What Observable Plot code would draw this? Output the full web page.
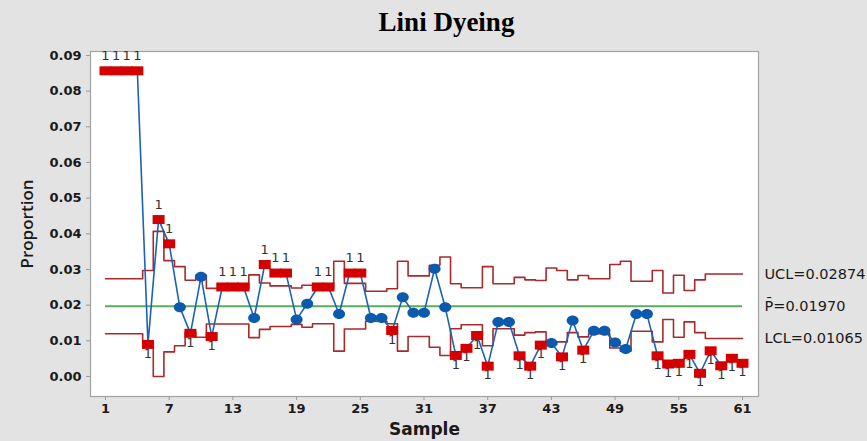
<!DOCTYPE html>
<html><head><meta charset="utf-8">
<script src="https://cdn.jsdelivr.net/npm/d3@7"></script>
<script src="https://cdn.jsdelivr.net/npm/@observablehq/plot@0.6"></script>
<style>
html,body{margin:0;padding:0;background:#e3e3e3;}
#chart{width:867px;height:441px;}
</style></head><body><div id="chart"></div>
<script>
const title = "Lini Dyeing";
const xLabel = "Sample";
const yLabel = "Proportion";
const samples = [1,2,3,4,5,6,7,8,9,10,11,12,13,14,15,16,17,18,19,20,21,22,23,24,25,26,27,28,29,30,31,32,33,34,35,36,37,38,39,40,41,42,43,44,45,46,47,48,49,50,51,52,53,54,55,56,57,58,59,60,61];
const proportion = [0.0857,0.0857,0.0857,0.0857,0.0090,0.0440,0.0372,0.0194,0.0121,0.0280,
  0.0112,0.0251,0.0251,0.0251,0.0164,0.0314,0.0290,0.0290,0.0160,0.0204,
  0.0251,0.0251,0.0175,0.0290,0.0290,0.0164,0.0164,0.0129,0.0222,0.0179,
  0.0179,0.0302,0.0194,0.0059,0.0079,0.0115,0.0029,0.0153,0.0153,0.0058,
  0.0029,0.0088,0.0094,0.0055,0.0157,0.0074,0.0128,0.0128,0.0095,0.0077,
  0.0175,0.0175,0.0058,0.0035,0.0037,0.0062,0.0009,0.0072,0.0030,0.0051,0.0037];
const ucl = [0.0274,0.0274,0.0274,0.0274,0.0297,0.0407,0.0325,0.0308,0.0270,0.0284,
  0.0247,0.0247,0.0247,0.0247,0.0285,0.0262,0.0254,0.0254,0.0248,0.0256,
  0.0246,0.0246,0.0323,0.0261,0.0261,0.0239,0.0239,0.0246,0.0323,0.0282,
  0.0282,0.0312,0.0335,0.0260,0.0249,0.0249,0.0308,0.0260,0.0260,0.0278,
  0.0271,0.0269,0.0304,0.0297,0.0271,0.0283,0.0274,0.0274,0.0314,0.0323,
  0.0267,0.0267,0.0297,0.0234,0.0284,0.0241,0.0271,0.02874,0.02874,0.02874,0.02874];
const lcl = [0.0120,0.0120,0.0120,0.0120,0.0097,0.0000,0.0069,0.0086,0.0124,0.0110,
  0.0147,0.0147,0.0147,0.0147,0.0109,0.0132,0.0140,0.0140,0.0146,0.0138,
  0.0148,0.0148,0.0071,0.0133,0.0133,0.0155,0.0155,0.0148,0.0071,0.0112,
  0.0112,0.0082,0.0059,0.0134,0.0145,0.0145,0.0086,0.0134,0.0134,0.0116,
  0.0123,0.0125,0.0090,0.0097,0.0123,0.0111,0.0120,0.0120,0.0080,0.0071,
  0.0127,0.0127,0.0097,0.0160,0.0110,0.0153,0.0123,0.01065,0.01065,0.01065,0.01065];
const centerLine = 0.01970;
const limitLabels = ["UCL=0.02874", "P\u0304=0.01970", "LCL=0.01065"];
const limitValues = [0.02874, 0.01970, 0.01065];
const xTicks = [1,7,13,19,25,31,37,43,49,55,61];
const yTicks = [0,0.01,0.02,0.03,0.04,0.05,0.06,0.07,0.08,0.09];

const rows = samples.map((s, i) => ({sample: s, p: proportion[i], ucl: ucl[i], lcl: lcl[i]}));
rows.forEach(d => { d.above = d.p > d.ucl; d.below = d.p < d.lcl; d.out = d.above || d.below; });

const squareSym = {draw(ctx) { ctx.moveTo(-6, -4.5); ctx.lineTo(6, -4.5); ctx.lineTo(6, 4.5); ctx.lineTo(-6, 4.5); ctx.closePath(); }};
const ellipseSym = {draw(ctx) {
  const rx = 6, ry = 5, k = 0.5523;
  ctx.moveTo(rx, 0);
  ctx.bezierCurveTo(rx, k*ry, k*rx, ry, 0, ry);
  ctx.bezierCurveTo(-k*rx, ry, -rx, k*ry, -rx, 0);
  ctx.bezierCurveTo(-rx, -k*ry, -k*rx, -ry, 0, -ry);
  ctx.bezierCurveTo(k*rx, -ry, rx, -k*ry, rx, 0);
  ctx.closePath();
}};

const tickFont = "DejaVu Sans";
const chart = Plot.plot({
  width: 867, height: 441,
  marginLeft: 90, marginRight: 109, marginTop: 51, marginBottom: 45,
  style: {background: "#e3e3e3", fontFamily: "DejaVu Sans"},
  x: {domain: [-0.413, 62.507]},
  y: {domain: [-0.00561, 0.09112]},
  marks: [
    Plot.frame({fill: "white", stroke: "#a3a3a3", strokeWidth: 1.2}),
    Plot.axisX(xTicks, {tickSize: 4, tickPadding: 3, stroke: "#9a9a9a", fill: "#1a1a1a", fontSize: 13, fontFamily: tickFont, fontWeight: "bold", label: null}),
    Plot.axisY(yTicks, {tickSize: 4, tickPadding: 5, stroke: "#9a9a9a", fill: "#1a1a1a", fontSize: 13, fontFamily: tickFont, fontWeight: "bold", tickFormat: d3.format(".2f"), label: null}),
    Plot.ruleY([centerLine], {x1: 1, x2: 61, stroke: "#5aad5a", strokeWidth: 2}),
    Plot.line(rows, {x: "sample", y: "ucl", curve: "step", stroke: "#a82a2a", strokeWidth: 1.6}),
    Plot.line(rows, {x: "sample", y: "lcl", curve: "step", stroke: "#a82a2a", strokeWidth: 1.6}),
    Plot.line(rows, {x: "sample", y: "p", stroke: "#1c63b5", strokeWidth: 1.6}),
    Plot.text(rows.filter(d => d.above), {x: "sample", y: "p", text: () => "1", dy: -15, fontSize: 13, fill: "#333", fontFamily: "DejaVu Sans"}),
    Plot.text(rows.filter(d => d.below), {x: "sample", y: "p", text: () => "1", dy: 9, fontSize: 13, fill: "#333", fontFamily: "DejaVu Sans"}),
    Plot.dot(rows.filter(d => !d.out), {x: "sample", y: "p", symbol: ellipseSym, fill: "#0b5aad", stroke: "none"}),
    Plot.dot(rows.filter(d => d.out), {x: "sample", y: "p", symbol: squareSym, fill: "#d40000", stroke: "none"}),
    Plot.text(limitLabels, {x: 61, y: (d, i) => limitValues[i], dx: 22, textAnchor: "start", fontSize: 14.5, fill: "#1a1a1a", fontFamily: "DejaVu Sans"}),
    Plot.text([title], {frameAnchor: "top", lineAnchor: "middle", textAnchor: "middle", dx: 22, dy: -29, fontSize: 27, fontWeight: "bold", fontFamily: "Liberation Serif", fill: "#000"}),
    Plot.text([yLabel], {frameAnchor: "left", textAnchor: "middle", lineAnchor: "middle", dx: -63, rotate: -90, fontSize: 17, fontWeight: 600, fontFamily: "Open Sans", fill: "#1a1a1a"}),
    Plot.text([xLabel], {frameAnchor: "bottom", textAnchor: "middle", lineAnchor: "middle", dy: 33, fontSize: 17, fontWeight: "bold", fontFamily: "DejaVu Sans", fill: "#1a1a1a"})
  ]
});
document.getElementById("chart").appendChild(chart);
</script>
</body></html>
